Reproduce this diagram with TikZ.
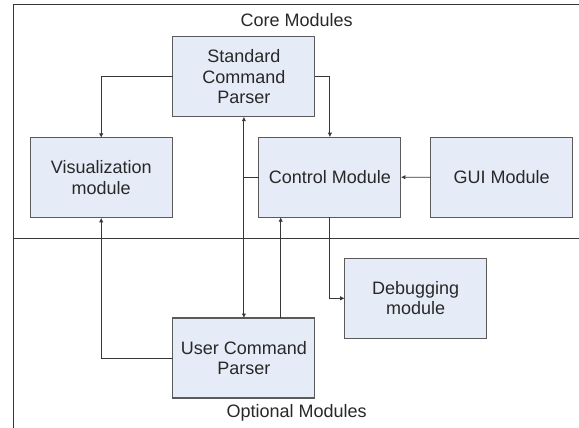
\documentclass[tikz,border=0pt]{standalone}
\usepackage{fontspec}
\setmainfont{Liberation Sans}
\usetikzlibrary{arrows.meta}
\definecolor{boxfill}{RGB}{230,236,247}
\definecolor{boxdraw}{RGB}{90,90,90}
\definecolor{linec}{RGB}{55,55,55}
\definecolor{txt}{RGB}{40,40,40}
\tikzset{
  module/.style={draw=boxdraw, fill=boxfill, line width=1.1pt, minimum width=142pt, minimum height=80pt,
    inner sep=0pt, outer sep=0pt, align=center, text=txt, font=\fontsize{18}{20.5}\selectfont},
  conn/.style={draw=linec, line width=0.9pt},
  arr/.style={conn, -{Latex[length=4.5pt,width=4.5pt]}},
  frame/.style={draw=linec, line width=1.4pt},
  title/.style={text=txt, font=\fontsize{18}{20.5}\selectfont, inner sep=0pt}
}
\begin{document}
\begin{tikzpicture}[x=1pt,y=-1pt]
\useasboundingbox (0,0) rectangle (579,428);
% frame
\coordinate (ftr) at (579,4.7);
\coordinate (ftl) at (13.3,4.7);
\coordinate (fbl) at (13.3,428);
\coordinate (dl) at (13.3,238.3);
\coordinate (dr) at (579,238.3);
\draw[frame] (ftr) -- (ftl) -- (fbl);
\draw[frame] (dl) -- (dr);
% titles
\node[title] (core) at (296.7,20) {Core Modules};
\node[title] (opt) at (296.7,413) {Optional Modules};
% modules
\node[module] (scp) at (243.9,76.7) {Standard\\Command\\Parser};
\node[module] (vis) at (101.2,177.8) {Visualization\\module};
\node[module] (ctrl) at (329.9,177.2) {Control Module};
\node[module] (gui) at (501.7,177.3) {GUI Module};
\node[module] (dbg) at (415.7,298.3) {Debugging\\module};
\node[module] (ucp) at (243.9,358) {User Command\\Parser};
% connectors
\draw[arr] (scp.west) -| (vis.north);
\draw[arr] (scp.east) -| (ctrl.north);
\draw[arr, {Latex[length=4.5pt,width=4.5pt]}-{Latex[length=4.5pt,width=4.5pt]}] (scp.south) -- (ucp.north);
\draw[conn] (ctrl.west) -- (ctrl.west -| scp.south);
\draw[arr] (gui.west) -- (ctrl.east);
\draw[arr] ([xshift=36.8pt]ucp.north) -- ([xshift=36.8pt]ucp.north |- ctrl.south);
\draw[arr] (ctrl.south) |- (dbg.west);
\draw[arr] (ucp.west) -| (vis.south);
\end{tikzpicture}
\end{document}
